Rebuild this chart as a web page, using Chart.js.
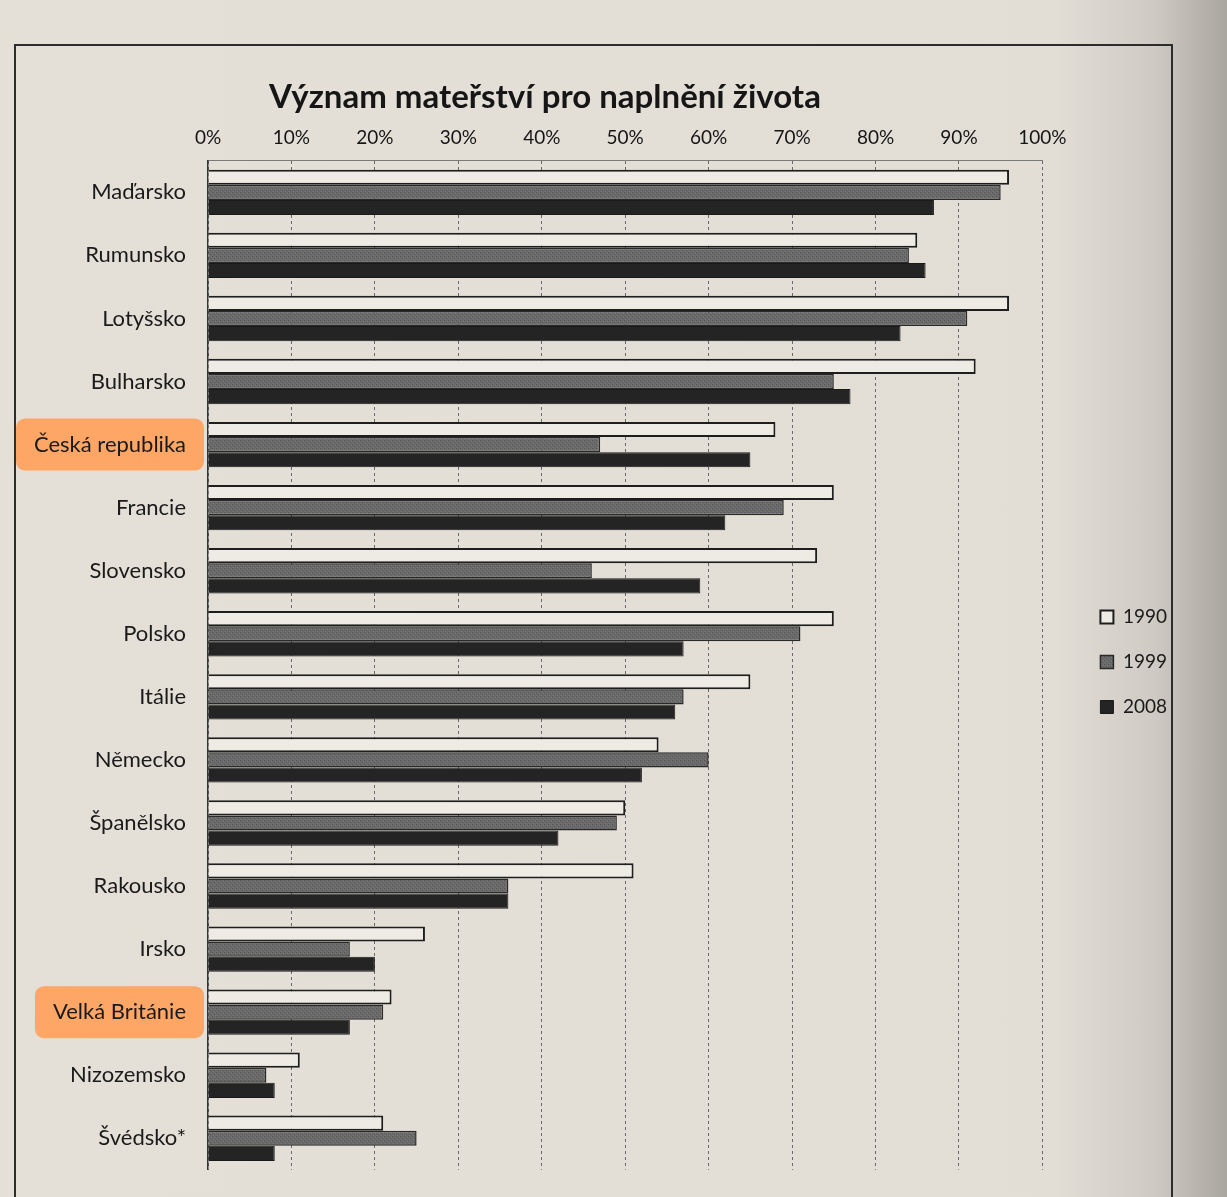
<!DOCTYPE html>
<html>
<head>
<meta charset="utf-8">
<script src="https://cdn.jsdelivr.net/npm/chart.js@4"></script>
<style>
  html, body { margin: 0; padding: 0; }
  body {
    width: 1227px; height: 1197px; overflow: hidden; position: relative;
    background: linear-gradient(to right, #e4e0d8 0%, #e2ded6 86%, #cfcbc4 94%, #a9a59f 100%);
  }
  #frame {
    position: absolute; left: 14px; top: 44px; width: 1159px; height: 1200px;
    border: 2px solid #2c2c2c; box-sizing: border-box;
  }
  #wrap { position: absolute; left: 0; top: 0; width: 1227px; height: 1197px; }
</style>
</head>
<body>
<div id="frame"></div>
<div id="wrap"><canvas id="chart"></canvas></div>
<script>
// data (percent)
const countries = ['Maďarsko', 'Rumunsko', 'Lotyšsko', 'Bulharsko', 'Česká republika', 'Francie',
  'Slovensko', 'Polsko', 'Itálie', 'Německo', 'Španělsko', 'Rakousko', 'Irsko', 'Velká Británie',
  'Nizozemsko', 'Švédsko*'];
const years = ['1990', '1999', '2008'];
const values1990 = [96, 85, 96, 92, 68, 75, 73, 75, 65, 54, 50, 51, 26, 22, 11, 21];
const values1999 = [95, 84, 91, 75, 47, 69, 46, 71, 57, 60, 49, 36, 17, 21, 7, 25];
const values2008 = [87, 86, 83, 77, 65, 62, 59, 57, 56, 52, 42, 36, 20, 17, 8, 8];
const tickLabels = ['0%', '10%', '20%', '30%', '40%', '50%', '60%', '70%', '80%', '90%', '100%'];
const highlighted = ['Česká republika', 'Velká Británie'];

const title = 'Význam mateřství pro naplnění života';
const FONT = 'Lato, "Open Sans", sans-serif';

// fine grey hatch for the 1999 bars
function hatch() {
  const c = document.createElement('canvas');
  c.width = 4; c.height = 4;
  const g = c.getContext('2d');
  g.fillStyle = '#6a6a6a';
  g.fillRect(0, 0, 4, 4);
  g.fillStyle = '#565656';
  g.fillRect(0, 0, 1, 1);
  g.fillRect(2, 2, 1, 1);
  g.fillStyle = '#7a7a7a';
  g.fillRect(1, 3, 1, 1);
  g.fillRect(3, 1, 1, 1);
  return g.createPattern(c, 'repeat');
}

// orange marker behind two country names (drawn before the axes)
const markerPlugin = {
  id: 'marker',
  beforeDraw(chart) {
    const y = chart.scales.y;
    const ctx = chart.ctx;
    ctx.save();
    ctx.font = '22px ' + FONT;
    highlighted.forEach(name => {
      const i = countries.indexOf(name);
      const cy = y.getPixelForValue(i);
      const w = ctx.measureText(name).width;
      const right = 186;
      ctx.fillStyle = 'rgba(255, 162, 96, 0.95)';
      ctx.beginPath();
      ctx.roundRect(right - w - 18, cy - 26, w + 36, 52, 9);
      ctx.fill();
    });
    ctx.restore();
  }
};

const titlePlugin = {
  id: 'pageTitle',
  afterDraw(chart) {
    const ctx = chart.ctx;
    ctx.save();
    ctx.font = 'bold 33px ' + FONT;
    ctx.fillStyle = '#161616';
    ctx.textAlign = 'center';
    ctx.textBaseline = 'middle';
    ctx.fillText(title, 545, 97);
    ctx.restore();
  }
};

new Chart(document.getElementById('chart'), {
  type: 'bar',
  data: {
    labels: countries,
    datasets: [
      { label: years[0], data: values1990, backgroundColor: '#eeebe4', borderColor: '#1e1e1e', borderWidth: 2 },
      { label: years[1], data: values1999, backgroundColor: hatch(), borderColor: '#2a2a2a', borderWidth: 1.5 },
      { label: years[2], data: values2008, backgroundColor: '#242424', borderColor: '#1a1a1a', borderWidth: 1 }
    ]
  },
  options: {
    indexAxis: 'y',
    responsive: true,
    maintainAspectRatio: false,
    animation: false,
    layout: { padding: { top: 114, bottom: 19, left: 0, right: 50 } },
    datasets: { bar: { categoryPercentage: 0.72, barPercentage: 1.0, borderSkipped: 'start' } },
    scales: {
      x: {
        position: 'top',
        min: 0, max: 100,
        ticks: {
          stepSize: 10,
          padding: 12,
          color: '#151515',
          font: { family: FONT, size: 19 },
          callback: (v, i) => tickLabels[i]
        },
        grid: { color: '#6a6a6a', lineWidth: 1, drawTicks: false },
        border: { display: true, color: '#7a7a7a', width: 1, dash: [3, 3] }
      },
      y: {
        ticks: { padding: 14, color: '#1a1a1a', font: { family: FONT, size: 22 } },
        grid: { display: false },
        border: { display: true, color: '#333', width: 1.5 },
        afterFit(s) { s.width = 208; }
      },
      gap: {
        type: 'linear',
        position: 'right',
        display: true,
        ticks: { display: false },
        grid: { display: false },
        border: { display: false },
        afterFit(s) { s.width = 32; }
      }
    },
    plugins: {
      title: { display: false },
      tooltip: { enabled: false },
      legend: {
        position: 'right',
        title: { display: true, text: '', font: { size: 10 }, padding: { top: 20, bottom: 0 } },
        labels: {
          boxWidth: 13, boxHeight: 13, padding: 26,
          color: '#1a1a1a',
          font: { family: FONT, size: 19 }
        }
      }
    }
  },
  plugins: [markerPlugin, titlePlugin]
});
</script>
</body>
</html>
